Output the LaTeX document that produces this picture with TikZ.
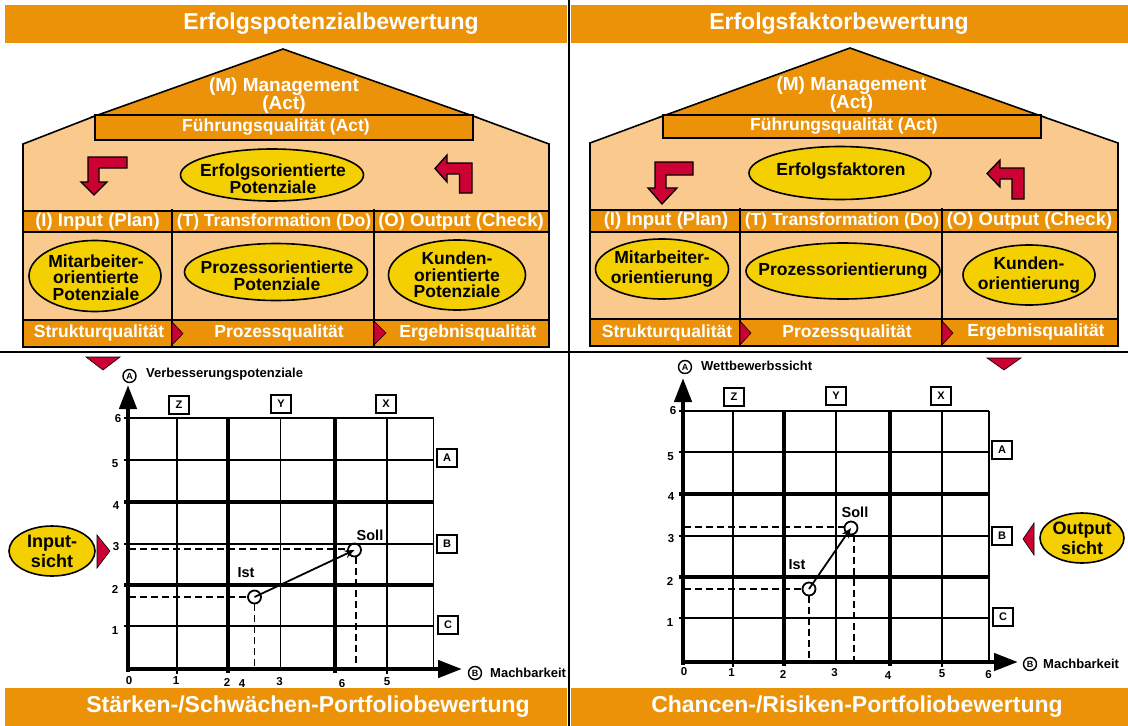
\documentclass[tikz,border=0pt]{standalone}
\usepackage{fontspec}
\setmainfont{Liberation Sans}
\usetikzlibrary{shapes.geometric,arrows.meta}
\definecolor{dor}{RGB}{236,146,8}
\definecolor{peach}{RGB}{249,201,141}
\definecolor{yel}{RGB}{245,208,0}
\definecolor{rd}{RGB}{204,0,51}
\newcommand\myfs[2]{\fontsize{#1}{#2}\selectfont\bfseries}
\begin{document}
\begin{tikzpicture}[x=1pt,y=-1pt,
  ban/.style={text=white, inner sep=0pt, font=\myfs{23}{23}},
  wt/.style={text=white, inner sep=0pt, font=\myfs{17.5}{17}},
  wtb/.style={text=white, inner sep=0pt, font=\myfs{18.5}{17}},
  mgt/.style={text=white, inner sep=0pt, align=center, font=\myfs{19}{17}},
  ell/.style={ellipse, draw=black, line width=1.6pt, fill=yel, inner sep=0pt},
  et/.style={inner sep=0pt, align=center, font=\myfs{17.5}{16.5}},
  etw/.style={et, font=\myfs{17.5}{20}},
  sich/.style={et, font=\myfs{18}{20}},
  frame/.style={draw=black, line width=1.6pt},
  div/.style={draw=black, line width=1.3pt},
  rtri/.style={fill=rd, draw=black, line width=0.6pt},
  rarr/.style={fill=rd, draw=black, line width=1.3pt, line join=miter},
  gthin/.style={line width=1.9pt},
  gthick/.style={line width=4pt},
  axis/.style={line width=4.5pt, -{Triangle[length=24pt,width=17pt]}},
  tick/.style={inner sep=0pt, font=\myfs{11.5}{12}},
  ttl/.style={inner sep=0pt, anchor=west, font=\myfs{13}{13}},
  bx/.style={draw, line width=1.5pt, minimum width=20pt, minimum height=18pt, inner sep=0pt, fill=white, font=\myfs{11}{11}},
  cl/.style={circle, draw, line width=1.4pt, minimum size=13pt, inner sep=0pt, font=\myfs{9}{9}},
  pnt/.style={circle, draw, line width=1.8pt, minimum size=13pt, inner sep=0pt},
  pl/.style={inner sep=0pt, font=\myfs{14.5}{14.5}},
  dsh/.style={line width=1.9pt, dash pattern=on 7pt off 4pt},
  con/.style={line width=1.8pt, -{Stealth[length=10pt,width=8pt]}}
]
\useasboundingbox (0,0) rectangle (1128,726);
\fill[white] (0,0) rectangle (1128,726);

% ===== banners =====
\fill[dor] (5,5) rectangle (567,43);
\fill[dor] (571,5) rectangle (1128,43);
\fill[dor] (5,688) rectangle (567,726);
\fill[dor] (571,688) rectangle (1128,726);
\node[ban] (t1) at (331,24) {Erfolgspotenzialbewertung};
\node[ban] (t2) at (839,24) {Erfolgsfaktorbewertung};
\node[ban] (t3) at (308,707) {Stärken-/Schwächen-Portfoliobewertung};
\node[ban] (t4) at (857,707) {Chancen-/Risiken-Portfoliobewertung};

% separators
\draw[line width=2.2pt] (0,352) -- (1128,352);
\draw[line width=2.2pt] (569,0) -- (569,726);

% ===== left house =====
\fill[peach] (23,347) -- (23,144) -- (95,116) -- (283,49) -- (473,116) -- (549,144) -- (549,347) -- cycle;
\filldraw[fill=dor, frame] (95,116) -- (283,49) -- (473,116) -- cycle;
\filldraw[fill=dor, frame] (95,115) rectangle (473,140);
\filldraw[fill=dor, frame] (23,211) rectangle (549,232);
\filldraw[fill=dor, frame] (23,320) rectangle (549,347);
\draw[frame] (23,347) -- (23,144) -- (95,116) (473,116) -- (549,144) -- (549,347);
\draw[div] (172,209) -- (172,347) (374,209) -- (374,347);
\filldraw[rtri] (172,322) -- (183,333.5) -- (172,345) -- cycle;
\filldraw[rtri] (374,321) -- (386,333) -- (374,345) -- cycle;
\node[mgt] (lm) at (284,95.5) {(M) Management\\(Act)};
\node[wt] (lf) at (276,127.5) {Führungsqualität (Act)};
\node[wtb] (li1) at (97.5,221.5) {(I) Input (Plan)};
\node[wt] (lt1) at (274,221.5) {(T) Transformation (Do)};
\node[wtb] (lo1) at (461,221.5) {(O) Output (Check)};
\node[wt] (ls1) at (99,333) {Strukturqualität};
\node[wt] (lp1) at (279,333) {Prozessqualität};
\node[wt] (le1) at (468,333) {Ergebnisqualität};
\node[ell, minimum width=183pt, minimum height=52pt] (le) at (272,175) {};
\node[et] (let) at (273,178.5) {Erfolgsorientierte\\Potenziale};
\node[ell, minimum width=132pt, minimum height=71pt] (lma) at (95,276) {};
\node[et] (lmat) at (96,277.5) {Mitarbeiter-\\orientierte\\Potenziale};
\node[ell, minimum width=183pt, minimum height=57pt] (lpr) at (276,272) {};
\node[et] (lprt) at (277,275.5) {Prozessorientierte\\Potenziale};
\node[ell, minimum width=137pt, minimum height=70pt] (lku) at (457,275) {};
\node[et] (lkut) at (lku) {Kunden-\\orientierte\\Potenziale};
\filldraw[rarr] (127,157) -- (88,157) -- (88,182) -- (81,182) -- (94,195) -- (107,182) -- (99,182) -- (99,168) -- (127,168) -- cycle;
\filldraw[rarr] (472,163) -- (447,163) -- (447,155) -- (435,168.5) -- (447,182) -- (447,174) -- (459.5,174) -- (459.5,193) -- (472,193) -- cycle;

% ===== right house =====
\fill[peach] (590,347) -- (590,143) -- (663,116) -- (850,48) -- (1041,116) -- (1118,143) -- (1118,347) -- cycle;
\filldraw[fill=dor, frame] (663,116) -- (850,48) -- (1041,116) -- cycle;
\filldraw[fill=dor, frame] (663,115) rectangle (1041,138);
\filldraw[fill=dor, frame] (590,210) rectangle (1118,232);
\filldraw[fill=dor, frame] (590,319) rectangle (1118,346);
\draw[frame] (590,346) -- (590,143) -- (663,116) (1041,116) -- (1118,143) -- (1118,346);
\draw[div] (740,208) -- (740,346) (942,208) -- (942,346);
\filldraw[rtri] (740,321) -- (751,333) -- (740,345) -- cycle;
\filldraw[rtri] (942,321) -- (953,333) -- (942,345) -- cycle;
\node[mgt] (rm) at (851.5,94.5) {(M) Management\\(Act)};
\node[wt] (rf) at (844,126.5) {Führungsqualität (Act)};
\node[wtb] (ri1) at (666,221) {(I) Input (Plan)};
\node[wt] (rt1) at (842,221) {(T) Transformation (Do)};
\node[wtb] (ro1) at (1029.5,221) {(O) Output (Check)};
\node[wt] (rs1) at (667,332.5) {Strukturqualität};
\node[wt] (rp1) at (847,332.5) {Prozessqualität};
\node[wt] (re1) at (1036,332.5) {Ergebnisqualität};
\node[ell, minimum width=182pt, minimum height=53pt] (re) at (840,173) {};
\node[et] (ret) at (841,171.5) {Erfolgsfaktoren};
\node[ell, minimum width=133pt, minimum height=60pt] (rma) at (662,269) {};
\node[etw] (rmat) at (rma) {Mitarbeiter-\\orientierung};
\node[ell, minimum width=194pt, minimum height=56pt] (rpr) at (843,271) {};
\node[et] (rprt) at (rpr) {Prozessorientierung};
\node[ell, minimum width=132pt, minimum height=60pt] (rku) at (1029,275) {};
\node[etw] (rkut) at (rku) {Kunden-\\orientierung};
\filldraw[rarr] (693,162) -- (655,162) -- (655,188) -- (648,188) -- (662,204) -- (677,188) -- (666,188) -- (666,175) -- (693,175) -- cycle;
\filldraw[rarr] (1024,168) -- (1000,168) -- (1000,160) -- (987,173.5) -- (1000,187) -- (1000,179) -- (1012,179) -- (1012,199) -- (1024,199) -- cycle;

% ===== left chart =====
\foreach \x in {177,280.5,387,433.5} \draw[gthin] (\x,418) -- (\x,668);
\foreach \y in {418,460,544,626} \draw[gthin] (124,\y) -- (433.5,\y);
\foreach \x in {228,334.5} \draw[gthick] (\x,418) -- (\x,673);
\foreach \y in {502,585} \draw[gthick] (124,\y) -- (433.5,\y);
\foreach \x in {177,387} \draw[gthin] (\x,668) -- (\x,674);
\coordinate (lo) at (128,671.5);
\coordinate (ltop) at (128,385);
\coordinate (lx0) at (126,669);
\coordinate (lxr) at (462,669);
\draw[axis] (lo) -- (ltop);
\draw[axis] (lx0) -- (lxr);
\node[tick] (ly6) at (118,419) {6};
\node[tick] (ly5) at (115,464) {5};
\node[tick] (ly4) at (116,506) {4};
\node[tick] (ly3) at (116,547) {3};
\node[tick] (ly2) at (115,589) {2};
\node[tick] (ly1) at (115,631) {1};
\node[tick] (lx0l) at (129,681) {0};
\node[tick] (lx1l) at (176,681) {1};
\node[tick] (lx2l) at (227,682) {2};
\node[tick] (lx4l) at (242,684) {4};
\node[tick] (lx3l) at (279.5,682) {3};
\node[tick] (lx6l) at (342,684) {6};
\node[tick] (lx5l) at (387,682) {5};
\node[bx] (lbz) at (179,405) {Z};
\node[bx] (lby) at (281,404) {Y};
\node[bx] (lbx) at (386,404) {X};
\node[bx] (lba) at (447,458) {A};
\node[bx] (lbb) at (447,544) {B};
\node[bx] (lbc) at (448,625) {C};
\node[cl] (lca) at (129.5,376) {A};
\node[ttl] (lvt) at (146,374) {Verbesserungspotenziale};
\node[cl] (lcb) at (475,673) {B};
\node[ttl] (lmt) at (490,673) {Machbarkeit};
\node[pnt] (lis) at (254.5,597) {};
\node[pnt] (lso) at (354.5,550) {};
\coordinate (lyi) at (129,597);
\coordinate (lxi) at (254.5,668);
\coordinate (lys) at (129,549);
\coordinate (lxs) at (356,668);
\draw[dsh] (lyi) -- (lis.west);
\draw[dsh] (lis.south) -- (lxi);
\draw[dsh] (lys) -- (lso.west |- lys);
\draw[dsh] (lso.south -| lxs) -- (lxs);
\draw[con] (lis.center) -- (lso.center);
\node[pl] (lil) at (246,573) {Ist};
\node[pl] (lsl) at (370,535) {Soll};
\filldraw[rtri] (86,357) -- (120,357) -- (103,370) -- cycle;
\node[ell, minimum width=86pt, minimum height=50pt] (inp) at (52,551) {};
\node[sich] (inpt) at (inp) {Input-\\sicht};
\filldraw[rtri] (97,535) -- (110,551) -- (97,568) -- cycle;

% ===== right chart =====
\foreach \x in {733,836,942,989} \draw[gthin] (\x,411) -- (\x,661);
\foreach \y in {411,452,536,618} \draw[gthin] (679,\y) -- (989,\y);
\foreach \x in {784,889.5} \draw[gthick] (\x,411) -- (\x,666);
\foreach \y in {494,577} \draw[gthick] (679,\y) -- (989,\y);
\foreach \x in {733,942} \draw[gthin] (\x,661) -- (\x,667);
\coordinate (ro) at (683,664.5);
\coordinate (rtop) at (683,378);
\coordinate (rx0) at (681,662);
\coordinate (rxr) at (1018,662);
\draw[axis] (ro) -- (rtop);
\draw[axis] (rx0) -- (rxr);
\node[tick] (ry6) at (673,411) {6};
\node[tick] (ry5) at (670.5,457) {5};
\node[tick] (ry4) at (671,497) {4};
\node[tick] (ry3) at (671,539) {3};
\node[tick] (ry2) at (670,581) {2};
\node[tick] (ry1) at (670,623) {1};
\node[tick] (rx0l) at (684,672) {0};
\node[tick] (rx1l) at (731.5,673) {1};
\node[tick] (rx2l) at (783,674) {2};
\node[tick] (rx3l) at (834.5,673) {3};
\node[tick] (rx4l) at (888,676) {4};
\node[tick] (rx5l) at (942,674) {5};
\node[tick] (rx6l) at (988.5,675) {6};
\node[bx] (rbz) at (734,397) {Z};
\node[bx] (rby) at (836,396) {Y};
\node[bx] (rbx) at (941,396) {X};
\node[bx] (rba) at (1002,450) {A};
\node[bx] (rbb) at (1002,536) {B};
\node[bx] (rbc) at (1003,617) {C};
\node[cl] (rca) at (685,367) {A};
\node[ttl] (rwt) at (701,366) {Wettbewerbssicht};
\node[cl] (rcb) at (1030,664) {B};
\node[ttl] (rmt) at (1043,664) {Machbarkeit};
\node[pnt] (ris) at (809,589) {};
\node[pnt] (rso) at (851,528) {};
\coordinate (ryi) at (684,589);
\coordinate (rxi) at (809,661);
\coordinate (rys) at (684,527);
\coordinate (rxs) at (854,661);
\draw[dsh] (ryi) -- (ris.west);
\draw[dsh] (ris.south) -- (rxi);
\draw[dsh] (rys) -- (rso.west |- rys);
\draw[dsh] (rso.south -| rxs) -- (rxs);
\draw[con] (ris.center) -- (rso.center);
\node[pl] (ril) at (797,565) {Ist};
\node[pl] (rsl) at (855,512) {Soll};
\filldraw[rtri] (987,358) -- (1021,358) -- (1004,370) -- cycle;
\node[ell, minimum width=84pt, minimum height=50pt] (outp) at (1082,538) {};
\node[sich] (outpt) at (outp) {Output\\sicht};
\filldraw[rtri] (1034,523) -- (1023,539) -- (1034,555) -- cycle;
\end{tikzpicture}
\end{document}
